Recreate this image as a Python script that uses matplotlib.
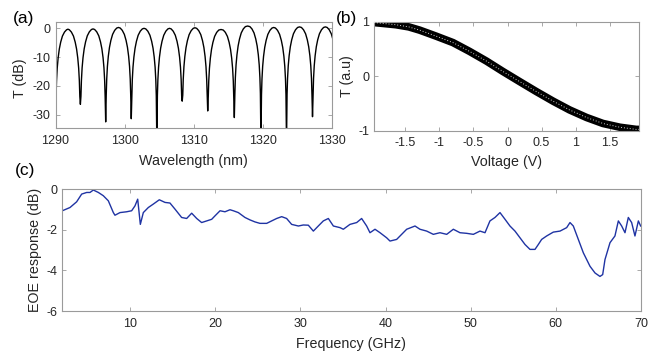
import matplotlib
matplotlib.use("Agg")
import matplotlib.pyplot as plt

plt.rcParams['font.family'] = ['Liberation Sans', 'DejaVu Sans']
plt.rcParams['axes.unicode_minus'] = False

# (a) transmission spectrum: dip positions / depths and lobe peak levels
dip_wl = [1290.0, 1293.6, 1297.26, 1300.96, 1304.66, 1308.33, 1312.02, 1315.87, 1319.72, 1323.42, 1327.18, 1330.9]
dip_db = [-34, -26.4, -32.5, -31.4, -40, -25.3, -28.7, -31, -40, -40, -30.7, -30]
peak_db = [-0.3, -0.2, 0.3, 0.0, 0.0, 0.2, -0.4, 0.8, 0.3, 0.5, 0.5]
# shape of one side of a lobe (nm from the dip, dB)
lobe_dx = [0.08, 0.15, 0.25, 0.38, 0.55, 0.75, 1.0, 1.3, 1.6]
lobe_db = [-23.4, -17.9, -13.5, -10.0, -6.9, -4.5, -2.4, -1.0, -0.2]

# (b) transfer curve
volt = [-1.96, -1.8, -1.64, -1.45, -1.29, -1.05, -0.80, -0.56, -0.31, -0.07,
        0.18, 0.42, 0.67, 0.91, 1.16, 1.40, 1.65, 1.89, 1.93]
trans = [0.99, 0.97, 0.95, 0.91, 0.85, 0.74, 0.62, 0.46, 0.28, 0.09,
         -0.10, -0.28, -0.46, -0.62, -0.76, -0.87, -0.94, -0.98, -0.98]

# (c) EOE response
freq = [2.04, 2.94, 3.72, 4.31, 4.90, 5.29, 5.68, 6.27, 6.85, 7.44, 8.03, 8.22, 8.81,
        9.59, 10.18, 10.57, 10.89, 11.20, 11.55, 12.14, 12.73, 13.43, 14.10, 14.68,
        15.27, 16.05, 16.64, 17.23, 17.82, 18.40, 18.99, 19.58, 19.97, 20.56, 21.14,
        21.73, 22.12, 22.71, 23.49, 24.08, 24.67, 25.25, 26.04, 26.62, 27.21, 27.80,
        28.38, 28.97, 29.76, 30.34, 30.93, 31.52, 32.10, 32.69, 33.28, 33.87, 34.65,
        35.04, 35.82, 36.61, 37.19, 37.78, 38.17, 38.76, 39.35, 40.13, 40.52, 41.30,
        41.89, 42.48, 43.46, 44.04, 44.83, 45.61, 46.39, 47.18, 47.96, 48.74, 49.52,
        50.31, 51.09, 51.68, 52.26, 52.85, 53.44, 54.03, 54.61, 55.20, 55.79, 56.38,
        56.96, 57.55, 57.94, 58.33, 58.92, 59.70, 60.49, 61.27, 61.66, 62.05, 62.64,
        63.23, 64.01, 64.60, 65.18, 65.50, 65.77, 66.36, 66.94, 67.34, 67.73, 68.12,
        68.51, 68.90, 69.29, 69.69, 69.96]
eoe = [-1.07, -0.91, -0.63, -0.25, -0.17, -0.17, -0.05, -0.17, -0.33, -0.58, -1.16,
       -1.29, -1.16, -1.12, -1.07, -0.83, -0.50, -1.74, -1.16, -0.91, -0.74, -0.53,
       -0.66, -0.69, -0.99, -1.40, -1.45, -1.19, -1.45, -1.65, -1.57, -1.49, -1.32,
       -1.07, -1.12, -1.02, -1.07, -1.16, -1.40, -1.52, -1.62, -1.69, -1.69, -1.57,
       -1.45, -1.36, -1.45, -1.74, -1.82, -1.77, -1.78, -2.07, -1.82, -1.57, -1.45,
       -1.82, -1.90, -1.98, -1.74, -1.65, -1.45, -1.82, -2.15, -1.98, -2.15, -2.40,
       -2.56, -2.48, -2.23, -1.98, -1.82, -1.98, -2.07, -2.23, -2.15, -2.23, -1.98,
       -2.15, -2.18, -2.23, -2.07, -2.15, -1.57, -1.40, -1.16, -1.49, -1.82, -2.07,
       -2.40, -2.73, -2.97, -2.97, -2.73, -2.48, -2.31, -2.12, -2.07, -1.90, -1.65,
       -1.82, -2.48, -3.14, -3.80, -4.13, -4.30, -4.21, -3.47, -2.64, -2.31, -1.57,
       -1.82, -2.15, -1.40, -1.65, -2.31, -1.57, -1.82]

# build the spectrum lobe by lobe
wl, tdb = [], []
for i in range(len(dip_wl) - 1):
    a, b = dip_wl[i], dip_wl[i + 1]
    wl.append(a); tdb.append(dip_db[i])
    for dx, v in zip(lobe_dx, lobe_db):
        wl.append(a + dx); tdb.append(v + peak_db[i])
    wl.append((a + b) / 2); tdb.append(peak_db[i])
    for dx, v in zip(lobe_dx[::-1], lobe_db[::-1]):
        wl.append(b - dx); tdb.append(v + peak_db[i])
wl.append(dip_wl[-1]); tdb.append(dip_db[-1])

spine_c = '#9a9a9a'
text_c = '#262626'


def style(ax):
    for s in ax.spines.values():
        s.set_color(spine_c)
        s.set_linewidth(0.8)
    ax.tick_params(direction='in', length=3, width=0.6, color=spine_c,
                   top=True, right=True, labelsize=9, labelcolor=text_c)
    ax.tick_params(axis='x', pad=5)
    ax.tick_params(axis='y', pad=3.5)


fig = plt.figure(figsize=(6.57, 3.52), dpi=100)
W, H = 657, 352


def axes_px(x0, x1, top, bottom):
    return fig.add_axes([x0 / W, 1 - bottom / H, (x1 - x0) / W, (bottom - top) / H])


ax1 = axes_px(55.5, 332, 22, 128.5)
ax2 = axes_px(374, 639, 22, 130.5)
ax3 = axes_px(62, 641, 189, 311)

# (a)
ax1.plot(wl, tdb, color='black', lw=1.0)
ax1.set_xlim(1290, 1330)
ax1.set_ylim(-34.8, 2.2)
ax1.set_xticks([1290, 1300, 1310, 1320, 1330])
ax1.set_yticks([-30, -20, -10, 0])
style(ax1)
ax1.set_xlabel('Wavelength (nm)', fontsize=10.3, color=text_c, va='center')
ax1.xaxis.set_label_coords(0.5, -0.305)
ax1.set_ylabel('T (dB)', fontsize=10.3, color=text_c, va='center')
ax1.yaxis.set_label_coords(-0.128, 0.47)

# (b)
ax2.plot(volt, trans, color='black', lw=5.5, solid_capstyle='round', zorder=2)
ax2.plot(volt, trans, color='white', lw=0.7, ls=(0, (1, 2)), alpha=0.8, zorder=3)
ax2.set_xlim(-1.96, 1.93)
ax2.set_ylim(-1, 1)
vt = [-1.5, -1, -0.5, 0, 0.5, 1, 1.5]
ax2.set_xticks(vt, labels=[f'{v:g}' for v in vt])
ax2.set_yticks([-1, 0, 1], labels=['-1', '0', '1'])
style(ax2)
ax2.set_xlabel('Voltage (V)', fontsize=10.3, color=text_c, va='center')
ax2.xaxis.set_label_coords(0.5, -0.29)
ax2.set_ylabel('T (a.u)', fontsize=10.3, color=text_c, va='center')
ax2.yaxis.set_label_coords(-0.102, 0.5)

# (c)
ax3.plot(freq, eoe, color='#1f33a3', lw=1.0)
ax3.set_xlim(2, 70)
ax3.set_ylim(-6, 0)
ax3.set_xticks([10, 20, 30, 40, 50, 60, 70])
ax3.set_yticks([-6, -4, -2, 0])
style(ax3)
ax3.set_xlabel('Frequency (GHz)', fontsize=10.3, color=text_c, va='center')
ax3.xaxis.set_label_coords(0.5, -0.27)
ax3.set_ylabel('EOE response (dB)', fontsize=10.3, color=text_c, va='center')
ax3.yaxis.set_label_coords(-0.0466, 0.5)

fig.text(24 / W, 1 - 19 / H, '(a)', fontsize=12.5, ha='center', va='center')
fig.text(346.5 / W, 1 - 19 / H, '(b)', fontsize=12.5, ha='center', va='center')
fig.text(25 / W, 1 - 170 / H, '(c)', fontsize=12.5, ha='center', va='center')

fig.savefig('out.png', dpi=100)
